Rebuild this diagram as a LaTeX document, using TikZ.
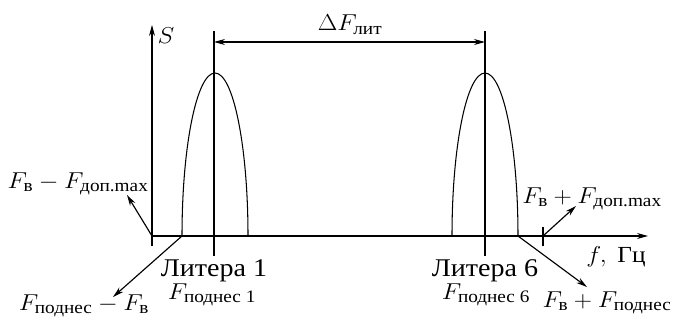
\RequirePackage{fix-cm}
\documentclass[tikz,border=0pt]{standalone}
\usepackage{amsmath}
\usepackage{graphicx}
\usepackage{fontspec}
\setmainfont{Liberation Serif}
\usetikzlibrary{arrows.meta}
\newcommand{\hstr}[1]{\scalebox{1.1}[1]{#1}}
\newcommand{\sbt}[1]{\text{\fontsize{17.5}{20}\selectfont #1}}
\begin{document}
\begin{tikzpicture}[x=1pt,y=-1pt,line width=1.15pt,
 arr/.style={-{Stealth[length=11pt,width=6pt]}},
 darr/.style={{Stealth[length=11pt,width=6pt]}-{Stealth[length=11pt,width=6pt]}},
 peak/.style={line width=1.05pt},
 mlbl/.style={inner sep=0pt,font=\fontsize{23}{27}\selectfont},
 tlbl/.style={inner sep=0pt,font=\fontsize{25.5}{30}\selectfont}]
\useasboundingbox (0,0) rectangle (673,321);
\coordinate (O) at (152,236);
\coordinate (Sb) at (152,246);
\coordinate (St) at (152,25);
\coordinate (Fe) at (648,236);
\coordinate (P1l) at (182,236);
\coordinate (P2l) at (452,236);
\coordinate (P2r) at (518,236);
\coordinate (L1t) at (214,31);
\coordinate (L1b) at (214,256);
\coordinate (L2t) at (485,31);
\coordinate (L2b) at (485,256);
\coordinate (D1) at (214,42);
\coordinate (D2) at (485,42);
\coordinate (Tk) at (543,236);
\coordinate (Tt) at (543,227);
\coordinate (Tb) at (543,246);
\coordinate (A1) at (127,195);
\coordinate (A2) at (113,297);
\coordinate (A3) at (576,206);
\coordinate (A4) at (587,287);
% axes
\draw[arr] (Sb) -- (St);
\draw[arr] (O) -- (Fe);
% peaks
\draw[peak] (P1l) arc[start angle=180,end angle=0,x radius=33pt,y radius=163pt];
\draw[peak] (P2l) arc[start angle=180,end angle=0,x radius=33pt,y radius=163pt];
\draw (L1t) -- (L1b);
\draw (L2t) -- (L2b);
\draw[darr] (D1) -- (D2);
\draw (Tt) -- (Tb);
% arrows
\draw[arr] (O) -- (A1);
\draw[arr] (P1l) -- (A2);
\draw[arr] (Tk) -- (A3);
\draw[arr] (P2r) -- (A4);
% labels
\node[mlbl,anchor=west] (S) at (157,36) {\hstr{$S$}};
\node[mlbl,anchor=base] (dF) at (350,31) {\hstr{$\Delta F_{\sbt{лит}}$}};
\node[mlbl,anchor=base] (lm) at (78,188) {\hstr{$F_{\sbt{в}}-F_{\sbt{доп.max}}$}};
\node[mlbl,anchor=base] (lp) at (84,310) {\hstr{$F_{\sbt{поднес}}-F_{\sbt{в}}$}};
\node[mlbl,anchor=base] (rm) at (592,203) {\hstr{$F_{\sbt{в}}+F_{\sbt{доп.max}}$}};
\node[mlbl,anchor=base] (rp) at (607,307) {\hstr{$F_{\sbt{в}}+F_{\sbt{поднес}}$}};
\node[mlbl,anchor=base] (fg) at (616,262) {\hstr{$f,\ \text{Гц}$}};
\node[tlbl,anchor=base] (lit1) at (214,276) {\hstr{Литера 1}};
\node[mlbl,anchor=base] (fp1) at (212,299) {\hstr{$F_{\sbt{поднес 1}}$}};
\node[tlbl,anchor=base] (lit6) at (485,276) {\hstr{Литера 6}};
\node[mlbl,anchor=base] (fp6) at (486,299) {\hstr{$F_{\sbt{поднес 6}}$}};
\end{tikzpicture}
\end{document}
